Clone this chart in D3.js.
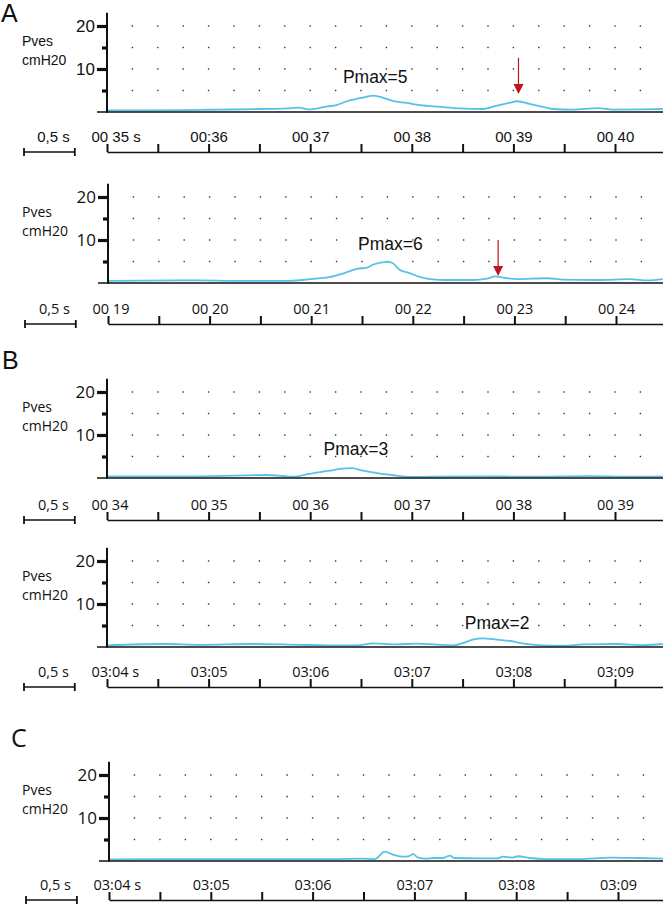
<!DOCTYPE html>
<html><head><meta charset="utf-8">
<script src="https://cdn.jsdelivr.net/npm/d3@7"></script>
<style>html,body{margin:0;padding:0;background:#fff}</style>
</head><body>
<script>
// ---------- data ----------
const panelLetters = ["A", null, "B", null, "C"];
const yLabel = ["Pves", "cmH20"];
const scaleBarLabel = "0,5 s";
const timeLabels1 = ["00 35 s", "00:36", "00 37", "00 38", "00 39", "00 40"];
const timeLabels2 = ["00 19", "00 20", "00 21", "00 22", "00 23", "00 24"];
const timeLabels3 = ["00 34", "00 35", "00 36", "00 37", "00 38", "00 39"];
const timeLabels4 = ["03:04 s", "03:05", "03:06", "03:07", "03:08", "03:09"];
const timeLabels5 = ["03:04 s", "03:05", "03:06", "03:07", "03:08", "03:09"];
const pmaxLabels = ["Pmax=5", "Pmax=6", "Pmax=3", "Pmax=2", null];

// Pves traces: time (s from first tick) and pressure (cmH2O)
const t1 = [0, 0.42, 0.92, 1.11, 1.51, 1.77, 1.88, 2.00, 2.17, 2.26, 2.36, 2.49, 2.62, 2.69, 2.81, 2.95, 3.08, 3.28, 3.47, 3.70, 3.84, 3.97, 4.04, 4.16, 4.29, 4.39, 4.59, 4.83, 4.98, 5.25, 5.47];
const v1 = [0.4, 0.4, 0.5, 0.55, 0.7, 0.85, 1.0, 0.6, 1.3, 1.6, 2.5, 3.2, 3.8, 3.5, 2.6, 2.1, 1.6, 1.2, 0.85, 0.7, 1.5, 2.2, 2.5, 1.9, 1.2, 0.7, 0.55, 0.9, 0.55, 0.6, 0.7];
const t2 = [0, 0.91, 1.23, 1.79, 1.99, 2.19, 2.31, 2.45, 2.55, 2.61, 2.75, 2.80, 2.87, 2.97, 3.07, 3.17, 3.34, 3.59, 3.73, 3.81, 3.89, 4.03, 4.32, 4.48, 4.81, 5.14, 5.31, 5.46];
const v2 = [0.5, 0.6, 0.5, 0.5, 0.9, 1.4, 2.2, 3.3, 3.6, 4.3, 4.9, 4.65, 3.1, 2.3, 1.4, 0.9, 0.7, 0.7, 1.0, 1.55, 1.25, 0.9, 1.1, 0.8, 0.7, 0.9, 0.6, 0.9];
const t3 = [0, 0.92, 1.57, 1.85, 1.97, 2.19, 2.29, 2.41, 2.52, 2.69, 2.85, 2.98, 3.18, 3.67, 4.16, 4.75, 5.15, 5.47];
const v3 = [0.4, 0.4, 0.7, 0.3, 0.9, 1.7, 2.1, 2.3, 1.7, 1.0, 0.55, 0.25, 0.3, 0.4, 0.3, 0.45, 0.3, 0.4];
const t4 = [0, 0.55, 0.92, 1.43, 1.90, 2.19, 2.46, 2.62, 2.85, 3.05, 3.25, 3.41, 3.50, 3.60, 3.70, 3.84, 3.97, 4.10, 4.29, 4.49, 4.69, 5.02, 5.28, 5.47];
const v4 = [0.4, 0.7, 0.5, 0.7, 0.5, 0.4, 0.4, 0.85, 0.6, 0.8, 0.55, 0.4, 0.9, 1.7, 2.0, 1.7, 1.4, 0.8, 0.4, 0.3, 0.6, 0.7, 0.45, 0.7];
const t5 = [0, 0.89, 2.17, 2.50, 2.61, 2.71, 2.79, 2.88, 2.94, 2.99, 3.03, 3.12, 3.18, 3.28, 3.35, 3.39, 3.64, 3.81, 3.87, 3.96, 4.02, 4.13, 4.30, 4.62, 4.92, 5.19, 5.44];
const v5 = [0.4, 0.45, 0.45, 0.55, 0.45, 2.2, 1.5, 1.0, 1.1, 1.6, 0.85, 0.55, 0.7, 0.7, 1.25, 0.7, 0.6, 0.6, 1.0, 0.8, 1.1, 0.7, 0.45, 0.45, 0.8, 0.7, 0.55];

// red arrows: [time, top value, tip value]
const arrow1 = [4.05, 12.6, 4.2];
const arrow2 = [3.84, 10.0, 1.6];

const yMajor = [10, 20];
const yMinor = [5, 15];
const timeTicks = [0, 0.5, 1, 1.5, 2, 2.5, 3, 3.5, 4, 4.5, 5];
const timeMajor = [0, 1, 2, 3, 4, 5];

// ---------- layout ----------
const W = 663, H = 906;
const ARIAL = "'Liberation Sans', Arial, sans-serif";
const SEGOE = "'Open Sans', 'Noto Sans', sans-serif";
const panels = [
  {t: t1, v: v1, labels: timeLabels1, base: 112, axisY: 152, x0: 107, pps: 101.6, font: ARIAL, pmaxPos: [2.64, 6.7], arrow: arrow1, bar: 24, letterPos: [1, 22], letterFont: ARIAL},
  {t: t2, v: v2, labels: timeLabels2, base: 283, axisY: 324, x0: 108, pps: 101.6, font: SEGOE, pmaxPos: [2.78, 7.7], arrow: arrow2, bar: 25},
  {t: t3, v: v3, labels: timeLabels3, base: 478, axisY: 520, x0: 107, pps: 101.6, font: SEGOE, pmaxPos: [2.45, 5.4], bar: 24, letterPos: [2, 369], letterFont: ARIAL},
  {t: t4, v: v4, labels: timeLabels4, base: 647, axisY: 687, x0: 107, pps: 101.6, font: SEGOE, pmaxPos: [3.84, 4.2], bar: 24},
  {t: t5, v: v5, labels: timeLabels5, base: 861, axisY: 900, x0: 109, pps: 101.8, font: SEGOE, bar: 26, letterPos: [11, 747], letterFont: SEGOE}
];

const svg = d3.select("body").append("svg").attr("width", W).attr("height", H)
  .style("display", "block");

const lineColor = "#56c2ea";
const red = "#c0141c";

panels.forEach((p, i) => {
  const g = svg.append("g");
  const x = d3.scaleLinear().domain([0, 5.5]).range([p.x0, p.x0 + 5.5 * p.pps]);
  const y = d3.scaleLinear().domain([0, 20]).range([p.base, p.base - 86]);

  // letter
  if (panelLetters[i]) {
    g.append("text").attr("x", p.letterPos[0]).attr("y", p.letterPos[1])
      .attr("font-family", p.letterFont).attr("font-size", 25).attr("fill", "#111")
      .text(panelLetters[i]);
  }

  // dot grid
  const dotT = d3.range(0.25, 5.3, 0.25);
  const dotV = [5, 10, 15, 20];
  dotV.forEach(dv => {
    g.selectAll(null).data(dotT).enter().append("rect")
      .attr("x", d => x(d) - 0.7).attr("y", y(dv) - 0.7)
      .attr("width", 1.4).attr("height", 1.4).attr("fill", "#333");
  });

  // trace
  const pts = p.t.map((tt, k) => [tt, p.v[k]]);
  g.append("path").datum(pts)
    .attr("d", d3.line().x(d => x(d[0])).y(d => y(d[1])).curve(d3.curveMonotoneX))
    .attr("fill", "none").attr("stroke", lineColor).attr("stroke-width", 1.8)
    .attr("stroke-linejoin", "round");

  // baseline
  g.append("line").attr("x1", p.x0 - 10).attr("x2", W).attr("y1", y(0)).attr("y2", y(0))
    .attr("stroke", "#111").attr("stroke-width", 1.6);
  // y axis line
  g.append("line").attr("x1", p.x0).attr("x2", p.x0).attr("y1", y(0) + 0.8).attr("y2", y(23.1))
    .attr("stroke", "#111").attr("stroke-width", 2);

  // y axes
  const yMaj = g.append("g").attr("transform", `translate(${p.x0},0)`)
    .call(d3.axisLeft(y).tickValues(yMajor).tickSize(10).tickPadding(2).tickFormat(d3.format("d")));
  yMaj.select(".domain").remove();
  yMaj.selectAll("line").attr("stroke", "#111").attr("stroke-width", 3.2);
  yMaj.selectAll("text").attr("font-family", p.font).attr("font-size", 17).attr("fill", "#111");
  const yMin = g.append("g").attr("transform", `translate(${p.x0},0)`)
    .call(d3.axisLeft(y).tickValues(yMinor).tickSize(5).tickFormat(""));
  yMin.select(".domain").remove();
  yMin.selectAll("line").attr("stroke", "#111").attr("stroke-width", 3.2);

  // y label
  g.append("text").attr("x", 22).attr("y", p.base - 66).attr("font-family", p.font)
    .attr("font-size", 14).attr("fill", "#111").text(yLabel[0]);
  g.append("text").attr("x", 22).attr("y", p.base - 47).attr("font-family", p.font)
    .attr("font-size", 14).attr("fill", "#111").text(yLabel[1]);

  // time axis
  const fmt = d => { const k = timeMajor.indexOf(d); return k >= 0 ? p.labels[k] : ""; };
  const ax = g.append("g").attr("transform", `translate(0,${p.axisY})`)
    .call(d3.axisTop(x).tickValues(timeTicks).tickSize(8).tickSizeOuter(0).tickPadding(2).tickFormat(fmt));
  ax.select(".domain").attr("stroke", "#111").attr("stroke-width", 1.6);
  ax.selectAll(".tick line").attr("stroke", "#111").attr("stroke-width", 2);
  ax.selectAll("text").attr("font-family", p.font).attr("font-size", p.font === ARIAL ? 15 : 14.5).attr("fill", "#111");
  ax.selectAll(".tick").filter(d => d === 0).select("text")
    .attr("text-anchor", "start").attr("x", -16);

  // scale bar 0.5 s
  const bw = x(0.5) - x(0);
  const sb = g.append("g").attr("transform", `translate(${p.bar},${p.axisY})`);
  sb.append("line").attr("x1", 0).attr("x2", bw).attr("y1", 0).attr("y2", 0)
    .attr("stroke", "#111").attr("stroke-width", 1.6);
  [0, bw].forEach(xx => sb.append("line").attr("x1", xx).attr("x2", xx).attr("y1", -4).attr("y2", 4)
    .attr("stroke", "#111").attr("stroke-width", 1.8));
  sb.append("text").attr("x", bw / 2 + 4).attr("y", -10).attr("text-anchor", "middle")
    .attr("font-family", p.font).attr("font-size", p.font === ARIAL ? 15 : 14.5).attr("fill", "#111")
    .text(scaleBarLabel);

  // Pmax label
  if (pmaxLabels[i]) {
    g.append("text").attr("x", x(p.pmaxPos[0])).attr("y", y(p.pmaxPos[1]))
      .attr("text-anchor", "middle").attr("font-family", ARIAL).attr("font-size", 17.5)
      .attr("fill", "#111").text(pmaxLabels[i]);
  }

  // red arrow
  if (p.arrow) {
    const ax0 = x(p.arrow[0]), yTop = y(p.arrow[1]), yTip = y(p.arrow[2]);
    g.append("line").attr("x1", ax0).attr("x2", ax0).attr("y1", yTop).attr("y2", yTip - 9)
      .attr("stroke", red).attr("stroke-width", 1.2);
    g.append("path").attr("d", `M${ax0 - 5},${yTip - 10}L${ax0 + 5},${yTip - 10}L${ax0},${yTip}Z`)
      .attr("fill", red);
  }
});
</script>
</body></html>
